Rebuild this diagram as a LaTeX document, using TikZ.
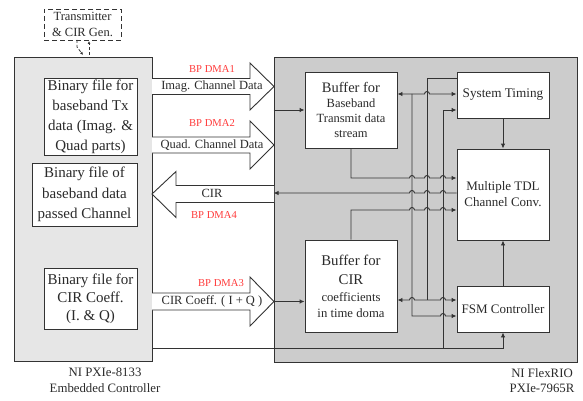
\documentclass[tikz,border=0pt]{standalone}
\usepackage{fontspec}
\setmainfont{Liberation Serif}
\usetikzlibrary{arrows.meta,calc}
\definecolor{txt}{HTML}{2A2A2A}
\definecolor{lc}{HTML}{333333}
\definecolor{lgray}{HTML}{E6E6E6}
\definecolor{dgray}{HTML}{CCCCCC}
\definecolor{dmared}{HTML}{FF3B3B}
\begin{document}
\begin{tikzpicture}[x=1pt,y=-1pt,
  box/.style={draw=lc, fill=white, line width=0.9pt, inner sep=0pt, align=center, text=txt},
  bigbox/.style={draw=lc, line width=0.9pt, inner sep=0pt},
  ln/.style={draw=lc, line width=0.9pt},
  arr/.style={-{Latex[length=5pt,width=4.5pt]}},
  darr/.style={{Latex[length=5pt,width=4.5pt]}-{Latex[length=5pt,width=4.5pt]}},
  blk/.style={draw=lc, fill=white, line width=0.9pt},
  lbl/.style={inner sep=0pt, text=txt, font=\fontsize{12.5}{14}\selectfont},
  red/.style={inner sep=0pt, text=dmared, font=\fontsize{10.6}{12}\selectfont},
  capt/.style={inner sep=0pt, text=txt, align=center, font=\fontsize{12.8}{15.5}\selectfont},
  hr/.style={},
]
\useasboundingbox (0,0) rectangle (583,401);

% big boxes
\node[bigbox, fill=lgray, minimum width=138pt, minimum height=304pt] (lbox) at (83,209) {};
\node[bigbox, fill=dgray, minimum width=303pt, minimum height=305pt] (rbox) at (425.5,209.5) {};

% generator dashed box
\node[draw=lc, dashed, dash pattern=on 5pt off 3pt, line width=0.9pt, fill=white, inner sep=0pt,
      minimum width=77pt, minimum height=31pt, align=center, text=txt,
      font=\fontsize{12.5}{16}\selectfont] (gen) at (82.5,24.5) {Transmitter\\\& CIR Gen.};
\draw[lc, dashed, dash pattern=on 3pt off 2pt, line width=0.8pt, -{Latex[length=3pt,width=3pt]}] (77,40) -- (77,47) -- (83,55);
\draw[lc, dashed, dash pattern=on 3pt off 2pt, line width=0.8pt, -{Latex[length=3pt,width=3pt]}] (89,55) -- (89,41);

% left inner boxes
\node[box, minimum width=93pt, minimum height=77pt, font=\fontsize{15}{20}\selectfont] (b1) at (90.5,116.5)
  {Binary file for\\baseband Tx\\data (Imag. \&\\Quad parts)};
\node[box, minimum width=105pt, minimum height=63pt, font=\fontsize{15}{20.5}\selectfont] (b2) at (84.5,194.5)
  {Binary file of\\baseband data\\passed Channel};
\node[box, minimum width=93pt, minimum height=61pt, font=\fontsize{15}{18}\selectfont] (b3) at (90.5,298.5)
  {Binary file for\\CIR Coeff.\\(I. \& Q)};

% right inner boxes
\node[box, minimum width=92pt, minimum height=76pt, font=\fontsize{12.5}{15.3}\selectfont] (btx) at (351,110)
  {{\fontsize{14.5}{15.3}\selectfont Buffer for}\\Baseband\\Transmit data\\stream};
\node[box, minimum width=92pt, minimum height=46pt, font=\fontsize{13.2}{16}\selectfont] (tim) at (503,95) {System Timing};
\node[box, minimum width=92pt, minimum height=91pt, font=\fontsize{13}{16}\selectfont] (tdl) at (503,194.5)
  {Multiple TDL\\Channel Conv.};
\node[box, minimum width=92pt, minimum height=92pt, font=\fontsize{12.7}{15.3}\selectfont] (bcir) at (351,286)
  {{\fontsize{14.8}{15.3}\selectfont Buffer for}\\[3.5pt]{\fontsize{14.8}{15.3}\selectfont CIR}\\[2.5pt]coefficients\\in time doma};
\node[box, minimum width=92pt, minimum height=46pt, font=\fontsize{13}{16}\selectfont] (fsm) at (503,309) {FSM Controller};

% block arrows
\draw[blk] (152,78.5) -- (250,78.5) -- (250,63) -- (274,86.5) -- (250,110) -- (250,94.5) -- (152,94.5);
\draw[blk] (152,137) -- (250,137) -- (250,121) -- (274,145) -- (250,169) -- (250,153) -- (152,153);
\draw[blk] (274,185.5) -- (176,185.5) -- (176,171.5) -- (152,194) -- (176,217.5) -- (176,202.5) -- (274,202.5);
\draw[blk] (152,293) -- (250,293) -- (250,277) -- (274,301.5) -- (250,326) -- (250,310) -- (152,310);

\node[lbl] (t1) at (212,86.5) {Imag. Channel Data};
\node[red] (r1) at (212,69) {BP DMA1};
\node[lbl] (t2) at (212,145) {Quad. Channel Data};
\node[red] (r2) at (212,123) {BP DMA2};
\node[lbl] (t4) at (212,193.5) {CIR};
\node[red] (r4) at (214,215) {BP DMA4};
\node[lbl] (t3) at (212,301.5) {CIR Coeff. ( I + Q )};
\node[red] (r3) at (221,283) {BP DMA3};

% captions
\node[capt] (c1) at (105,380.5) {NI PXIe-8133\\Embedded Controller};
\node[capt] (c2) at (542,380.5) {NI FlexRIO\\PXIe-7965R};

% inputs into buffers
\draw[ln,arr] (rbox.west |- btx.west) -- (btx.west);
\draw[ln,arr] (rbox.west |- 0,301.5) -- (bcir.west |- 0,301.5);

% timing / fsm to tdl
\draw[ln,arr] (tim.south) -- (tdl.north);
\draw[ln,arr] (fsm.north) -- (tdl.south);

% bus lines
% x=427 from timing down to y=300
\draw[ln] (tim.west |- 0,78) -- (427,78) -- (427,300);
% x=412 from y=94 down to 316 then to FSM
\draw[ln,arr] (412,94) -- (412,316) -- (440.5,316) arc[start angle=180,end angle=0,radius=2.5pt] -- (fsm.west |- 0,316);
% x=443 from bottom line up to timing
\draw[ln,arr] (443,348) -- (443,110) -- (tim.west |- 0,110);

% Tx <-> Timing at y=94
\draw[ln,darr] (btx.east |- 0,94) -- (424.5,94) arc[start angle=180,end angle=0,radius=2.5pt] -- (tim.west |- 0,94);

% Tx buffer to TDL at y=178
\draw[ln,arr] (btx.south) -- (351,178) -- (409.5,178) arc[start angle=180,end angle=0,radius=2.5pt]
  -- (424.5,178) arc[start angle=180,end angle=0,radius=2.5pt]
  -- (440.5,178) arc[start angle=180,end angle=0,radius=2.5pt] -- (tdl.west |- 0,178);

% TDL to CIR arrow at y=193
\draw[ln,arr] (tdl.west |- 0,193) -- (445.5,193) arc[start angle=0,end angle=180,radius=2.5pt]
  -- (429.5,193) arc[start angle=0,end angle=180,radius=2.5pt]
  -- (414.5,193) arc[start angle=0,end angle=180,radius=2.5pt] -- (rbox.west |- 0,193);

% CIR buffer to TDL at y=210
\draw[ln,arr] (bcir.north) -- (351,210) -- (409.5,210) arc[start angle=180,end angle=0,radius=2.5pt]
  -- (424.5,210) arc[start angle=180,end angle=0,radius=2.5pt]
  -- (440.5,210) arc[start angle=180,end angle=0,radius=2.5pt] -- (tdl.west |- 0,210);

% CIR buffer <-> FSM at y=300
\draw[ln,darr] (bcir.east |- 0,300) -- (409.5,300) arc[start angle=180,end angle=0,radius=2.5pt]
  -- (440.5,300) arc[start angle=180,end angle=0,radius=2.5pt] -- (fsm.west |- 0,300);

% bottom line from host to FSM
\draw[ln,arr] (lbox.east |- 0,348) -- (fsm.south |- 0,348) -- (fsm.south);
\end{tikzpicture}
\end{document}
